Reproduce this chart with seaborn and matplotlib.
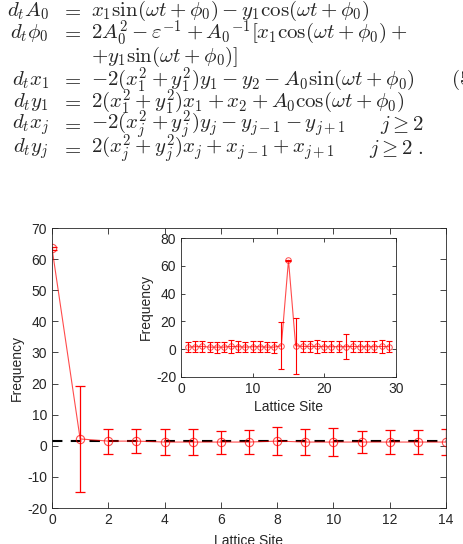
import numpy as np
import matplotlib
matplotlib.use("Agg")
import matplotlib.pyplot as plt
import seaborn as sns

# main panel: sites 0..14
site = list(range(15))
freq = [63.5, 2.2, 1.5, 1.5, 1.2, 1.2, 1.2, 1.2, 1.5, 1.2, 1.2, 1.2, 1.2, 1.2, 1.2]
err = [0.5, 17.0, 4.0, 3.8, 4.2, 4.2, 3.7, 4.0, 4.6, 4.2, 4.4, 3.6, 4.0, 4.0, 4.3]
mean_level = 1.4

# inset: sites 1..29
site_in = list(range(1, 30))
freq_in = [1.5, 1.8, 2.0, 1.5, 1.5, 1.5, 2.0, 1.8, 1.5, 1.8, 1.8, 1.5, 1.5, 2.5, 64.0,
           2.5, 2.0, 2.0, 2.0, 1.8, 1.8, 1.8, 1.8, 2.0, 1.8, 1.8, 1.8, 2.0, 1.8]
err_in = [3.5, 4.0, 4.0, 3.5, 4.0, 3.8, 4.5, 4.0, 3.5, 4.0, 4.0, 3.5, 4.0, 17.0, 0.5,
          20.0, 3.8, 3.8, 4.5, 3.8, 3.8, 3.8, 9.0, 3.8, 3.8, 3.8, 3.8, 4.5, 4.0]

sns.set_style("ticks")
plt.rcParams['font.family'] = ['Liberation Sans', 'DejaVu Sans']
plt.rcParams['mathtext.fontset'] = 'cm'
plt.rcParams['axes.unicode_minus'] = False

fig = plt.figure(figsize=(4.64, 5.44), dpi=100)

# equations above the plot
eqs = [
    (r'$d_tA_0$', r'$x_1\sin(\omega t+\phi_0)-y_1\cos(\omega t+\phi_0)$', ''),
    (r'$d_t\phi_0$', r'$2A_0^2-\varepsilon^{-1}+{A_0}^{-1}[x_1\cos(\omega t+\phi_0)+$', ''),
    ('', r'$+y_1\sin(\omega t+\phi_0)]$', ''),
    (r'$d_tx_1$', r'$-2(x_1^2+y_1^2)y_1-y_2-A_0\sin(\omega t+\phi_0)$', r'$(5$'),
    (r'$d_ty_1$', r'$2(x_1^2+y_1^2)x_1+x_2+A_0\cos(\omega t+\phi_0)$', ''),
    (r'$d_tx_j$', r'$-2(x_j^2+y_j^2)y_j-y_{j-1}-y_{j+1}$', r'$j\geq 2$'),
    (r'$d_ty_j$', r'$2(x_j^2+y_j^2)x_j+x_{j-1}+x_{j+1}$', r'$j\geq 2\ .$'),
]
tail_x = {r'$(5$': 451, r'$j\geq 2$': 380, r'$j\geq 2\ .$': 369}
ys = [11, 33, 57, 80, 102, 125, 149]
fs = 15
for (lhs, rhs, tail), yp in zip(eqs, ys):
    yf = 1 - yp / 544
    if lhs:
        fig.text(49 / 464, yf, lhs, ha='right', va='center', fontsize=fs)
        fig.text(71 / 464, yf, r'$=$', ha='center', va='center', fontsize=fs)
    fig.text(91 / 464, yf, rhs, ha='left', va='center', fontsize=fs)
    if tail:
        fig.text(tail_x[tail] / 464, yf, tail, ha='left', va='center',
                 fontsize=fs, clip_on=False)

red = '#ff0000'
tick_col = '#262626'

ax = fig.add_axes([52 / 464, 36 / 544, 394 / 464, 280 / 544])
sns.lineplot(x=site, y=freq, ax=ax, color=red, lw=0.8, alpha=0.7,
             marker='o', markersize=6, markerfacecolor='none',
             markeredgecolor=red, markeredgewidth=0.8)
ax.errorbar(site, freq, yerr=err, fmt='none', ecolor=red, elinewidth=0.9,
            capsize=3.5, capthick=0.9)
ax.axhline(mean_level, color='black', ls=(0, (5, 4)), lw=1.5, zorder=1)
ax.set_xlim(0, 14)
ax.set_ylim(-20, 70)
ax.set_xticks(range(0, 15, 2))
ax.set_yticks(range(-20, 71, 10))
ax.set_xlabel('Lattice Site', fontsize=10, color=tick_col, labelpad=5)
ax.set_ylabel('Frequency', fontsize=10, color=tick_col, labelpad=2)
ax.tick_params(direction='in', top=True, right=True, labelsize=10,
               colors=tick_col, length=4, width=0.6)
for s in ax.spines.values():
    s.set_color(tick_col)
    s.set_linewidth(0.6)

axi = fig.add_axes([181 / 464, 167 / 544, 215 / 464, 139 / 544])
sns.lineplot(x=site_in, y=freq_in, ax=axi, color=red, lw=0.8, alpha=0.7,
             marker='o', markersize=4, markerfacecolor='none',
             markeredgecolor=red, markeredgewidth=0.7)
axi.errorbar(site_in, freq_in, yerr=err_in, fmt='none', ecolor=red,
             elinewidth=0.8, capsize=2.5, capthick=0.8)
axi.set_xlim(0, 30)
axi.set_ylim(-20, 80)
axi.set_xticks([0, 10, 20, 30])
axi.set_yticks(range(-20, 81, 20))
axi.set_xlabel('Lattice Site', fontsize=10, color=tick_col, labelpad=3)
axi.set_ylabel('Frequency', fontsize=10, color=tick_col, labelpad=2)
axi.tick_params(direction='in', top=True, right=True, labelsize=10,
                colors=tick_col, length=3, width=0.6)
for s in axi.spines.values():
    s.set_color(tick_col)
    s.set_linewidth(0.6)

fig.savefig('out.png', dpi=100)
